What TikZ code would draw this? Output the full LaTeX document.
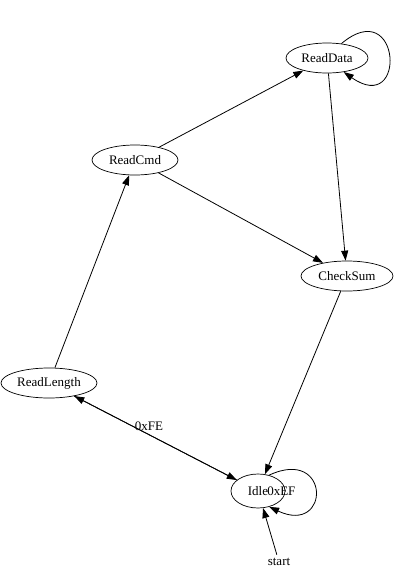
\documentclass[tikz,border=0pt]{standalone}
\usepackage{fontspec}
\setmainfont{Liberation Serif}
\usetikzlibrary{shapes.geometric,arrows.meta}

\begin{document}
\begin{tikzpicture}[x=1pt,y=-1pt,font=\fontsize{13}{15}\selectfont,
        state/.style={draw,ellipse,line width=0.7pt,minimum height=30,inner sep=0pt},
        edge/.style={line width=0.8pt,-{Triangle[length=10pt,width=7pt]}}]
    \useasboundingbox (0,0) rectangle (410,581);
    \node[state,minimum width=82] (data) at (327,58) {ReadData};
    \node[state,minimum width=86] (cmd) at (135,160) {ReadCmd};
    \node[state,minimum width=92] (sum) at (347,276) {CheckSum};
    \node[state,minimum width=96] (len) at (49,383) {ReadLength};
    \node[state,minimum width=54,minimum height=34] (idle) at (258,491) {Idle};
    \node (start) at (279,562) {start};
    \draw[edge] (cmd) -- (data);
    \draw[edge] (cmd) -- (sum);
    \draw[edge] (data.45) to[out=40,in=-35,looseness=7] (data.-40);
    \draw[edge] (data) -- (sum);
    \draw[edge] (sum) -- (idle);
    \draw[edge] (len) -- (cmd);
    \draw[edge] (idle) -- node[pos=0.54,yshift=8] {0xFE} (len);
    \draw[edge] (len) -- (idle);
    \draw[edge] (idle.55) to[out=25,in=-25,looseness=5.5] node[pos=0.5,xshift=-34] {0xEF} (idle.-55);
    \draw[edge] (start) -- (idle);
\end{tikzpicture}
\end{document}
